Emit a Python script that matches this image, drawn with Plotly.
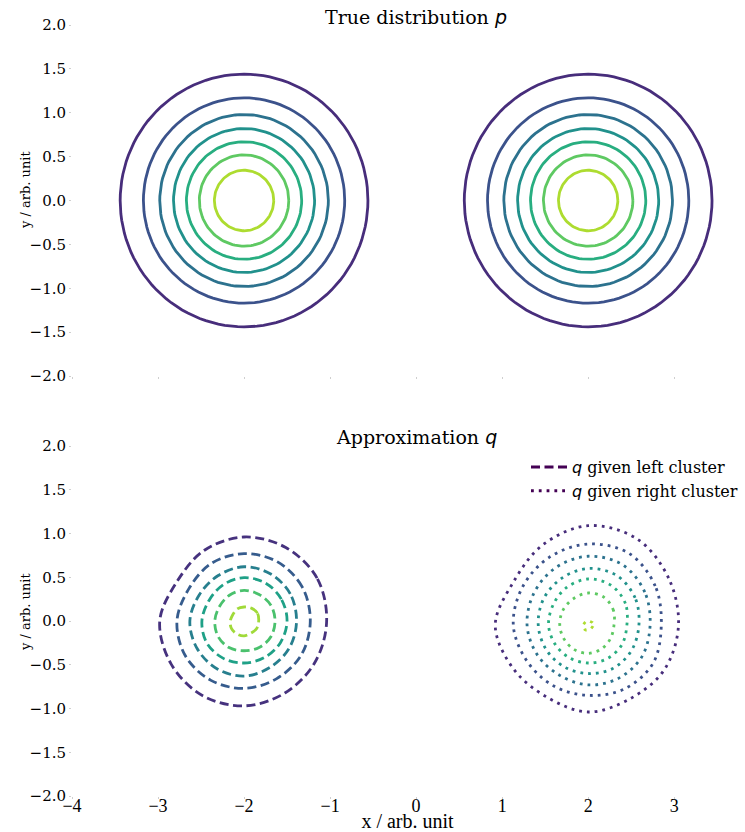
import numpy as np
import plotly.graph_objects as go
from plotly.subplots import make_subplots

# ---------------- data ----------------
P_CENTERS_X = [-2.0, 2.0]
P_CENTERS_Y = [0.0, 0.0]
P_RADII = [1.44, 1.17, 0.98, 0.82, 0.67, 0.52, 0.345]          # contour radii of p, outer -> inner
P_COLORS = ['#472d7b', '#3b528b', '#2c728e', '#21918c', '#28ae80', '#5ec962', '#addc30']

ANGLES_DEG = [0, 30, 60, 90, 120, 150, 180, 210, 240, 270, 300, 330]

Q_LEFT_CENTER = (-2.0, 0.0)
Q_LEFT_RADII = [
    [0.96, 0.98, 0.97, 0.96, 0.93, 0.90, 0.98, 0.98, 0.98, 0.97, 0.95, 0.95],
    [0.77, 0.78, 0.78, 0.77, 0.76, 0.74, 0.78, 0.79, 0.78, 0.77, 0.76, 0.77],
    [0.61, 0.62, 0.62, 0.62, 0.60, 0.60, 0.63, 0.63, 0.63, 0.63, 0.61, 0.61],
    [0.50, 0.50, 0.50, 0.495, 0.48, 0.47, 0.49, 0.50, 0.49, 0.48, 0.48, 0.49],
    [0.36, 0.36, 0.35, 0.35, 0.34, 0.33, 0.34, 0.35, 0.35, 0.34, 0.35, 0.36],
    [0.17, 0.18, 0.17, 0.16, 0.16, 0.15, 0.16, 0.17, 0.17, 0.17, 0.16, 0.17],
]
Q_LEFT_COLORS = ['#46327e', '#365c8d', '#277f8e', '#1fa187', '#4ac16d', '#a0da39']

Q_RIGHT_CENTER = (2.0, -0.05)
Q_RIGHT_RADII = [
    [1.05, 1.08, 1.14, 1.14, 1.06, 1.00, 1.08, 1.00, 0.95, 0.99, 0.97, 1.02],
    [0.85, 0.90, 0.95, 0.93, 0.90, 0.88, 0.87, 0.82, 0.80, 0.80, 0.84, 0.87],
    [0.72, 0.76, 0.80, 0.79, 0.76, 0.73, 0.71, 0.68, 0.66, 0.68, 0.70, 0.72],
    [0.59, 0.63, 0.66, 0.65, 0.62, 0.60, 0.58, 0.56, 0.55, 0.55, 0.57, 0.58],
    [0.45, 0.50, 0.53, 0.53, 0.50, 0.47, 0.46, 0.44, 0.43, 0.43, 0.44, 0.45],
    [0.30, 0.34, 0.37, 0.37, 0.35, 0.34, 0.33, 0.32, 0.32, 0.32, 0.31, 0.30],
    [0.06, 0.06, 0.05, 0.05, 0.05, 0.05, 0.06, 0.06, 0.06, 0.05, 0.05, 0.05],
]
Q_RIGHT_COLORS = ['#472d7b', '#3b528b', '#2c728e', '#21918c', '#28ae80', '#5ec962', '#addc30']

Y_TICKS = [2.0, 1.5, 1.0, 0.5, 0.0, -0.5, -1.0, -1.5, -2.0]
X_TICKS = [-4, -3, -2, -1, 0, 1, 2, 3]

LEGEND_LABELS = ['q given left cluster', 'q given right cluster']
TITLES = ['True distribution p', 'Approximation q']
X_LABEL = 'x / arb. unit'
Y_LABEL = 'y / arb. unit'

# ---------------- figure ----------------
SERIF = 'DejaVu Serif'
MATH = "<span style='font-family:DejaVu Sans'><i>{}</i></span>"


def fmt(v):
    s = f"{abs(v):.1f}"
    return ("\u2212" + s) if v < 0 else s


def fmt_int(v):
    return ("\u2212" + str(abs(v))) if v < 0 else str(v)


def mathify(label):
    head, rest = label.split(' ', 1)
    return MATH.format(head) + ' ' + rest


def title_html(label):
    words = label.split(' ')
    return ' '.join(words[:-1]) + ' ' + MATH.format(words[-1])


def closed_curve(center, radii):
    th = np.deg2rad(np.array(ANGLES_DEG + [ANGLES_DEG[0]], dtype=float))
    r = np.array(list(radii) + [radii[0]], dtype=float)
    return center[0] + r * np.cos(th), center[1] + r * np.sin(th)


fig = make_subplots(rows=2, cols=1, shared_xaxes=False, vertical_spacing=0.0)

DASH_LEFT = '9px,4.5px'
DASH_RIGHT = '2.8px,5px'

# True distribution p
circ = np.linspace(0, 2 * np.pi, 121)
for cx, cy in zip(P_CENTERS_X, P_CENTERS_Y):
    for r, c in zip(P_RADII, P_COLORS):
        fig.add_trace(go.Scatter(x=cx + r * np.cos(circ), y=cy + r * np.sin(circ),
                                 mode='lines', line=dict(color=c, width=2.8),
                                 showlegend=False, hoverinfo='skip'), row=1, col=1)

# Approximation q, left cluster (dashed)
for radii, c in zip(Q_LEFT_RADII, Q_LEFT_COLORS):
    x, y = closed_curve(Q_LEFT_CENTER, radii)
    fig.add_trace(go.Scatter(x=x, y=y, mode='lines',
                             line=dict(color=c, width=2.8, dash=DASH_LEFT, shape='spline', smoothing=1.0),
                             showlegend=False, hoverinfo='skip'), row=2, col=1)

# Approximation q, right cluster (dotted)
for radii, c in zip(Q_RIGHT_RADII, Q_RIGHT_COLORS):
    x, y = closed_curve(Q_RIGHT_CENTER, radii)
    fig.add_trace(go.Scatter(x=x, y=y, mode='lines',
                             line=dict(color=c, width=2.8, dash=DASH_RIGHT, shape='spline', smoothing=1.0),
                             showlegend=False, hoverinfo='skip'), row=2, col=1)

# legend entries
for lab, dash in zip(LEGEND_LABELS, [DASH_LEFT, DASH_RIGHT]):
    fig.add_trace(go.Scatter(x=[None], y=[None], mode='lines',
                             line=dict(color='#440154', width=3, dash=dash),
                             name=mathify(lab)), row=2, col=1)

W, H = 745, 832
ML, MR, MT, MB = 72, 2, 25, 36
ph = H - MT - MB
pw = W - ML - MR


def py(pix):
    """pixel row (from top of figure) -> paper y"""
    return (H - MB - pix) / ph


def px(pix):
    return (pix - ML) / pw


top_dom = [py(376), 1.0]
bot_dom = [0.0, py(446)]

tick_common = dict(ticks='outside', ticklen=2, tickwidth=0.6, tickcolor='#cfcfcf',
                   showgrid=False, zeroline=False, showline=False, automargin=False)

fig.update_layout(
    width=W, height=H, autosize=False,
    margin=dict(l=ML, r=MR, t=MT, b=MB),
    paper_bgcolor='white', plot_bgcolor='white',
    font=dict(family=SERIF, size=15, color='black'),
    legend=dict(x=px(526), y=py(450), xanchor='left', yanchor='top', itemwidth=36,
                bgcolor='rgba(255,255,255,0)', font=dict(family=SERIF, size=16)),
    xaxis=dict(range=[-4, 3.8], domain=[0, 1], tickvals=X_TICKS, showticklabels=False, **tick_common),
    yaxis=dict(range=[-2, 2], domain=top_dom, tickvals=Y_TICKS, ticktext=[fmt(v) for v in Y_TICKS],
               tickfont=dict(family=SERIF, size=15), **tick_common),
    xaxis2=dict(range=[-4, 3.8], domain=[0, 1], tickvals=X_TICKS, ticktext=[fmt_int(v) for v in X_TICKS],
                tickfont=dict(family='Liberation Serif', size=18), ticklabelstandoff=-9,
                title=dict(text=X_LABEL, font=dict(family='Liberation Serif', size=20), standoff=2),
                **tick_common),
    yaxis2=dict(range=[-2, 2], domain=bot_dom, tickvals=Y_TICKS, ticktext=[fmt(v) for v in Y_TICKS],
                tickfont=dict(family=SERIF, size=15), **tick_common),
)

# subplot titles
fig.add_annotation(x=0, xref='x', y=py(17), yref='paper', yanchor='middle',
                   text=title_html(TITLES[0]), showarrow=False,
                   font=dict(family=SERIF, size=19, color='black'))
fig.add_annotation(x=0, xref='x2', y=py(437), yref='paper', yanchor='middle',
                   text=title_html(TITLES[1]), showarrow=False,
                   font=dict(family=SERIF, size=19, color='black'))

# y-axis titles
for ycen in (py(190), py(612)):
    fig.add_annotation(x=px(25), xref='paper', y=ycen, yref='paper', xanchor='center', yanchor='middle',
                       text=Y_LABEL, textangle=-90, showarrow=False,
                       font=dict(family=SERIF, size=13, color='black'))

fig.write_html('out.html', config={'displayModeBar': False, 'responsive': False},
               post_script=("document.body.style.margin='0px';"
                            "document.body.style.overflow='hidden';"
                            "document.documentElement.style.overflow='hidden';"))
